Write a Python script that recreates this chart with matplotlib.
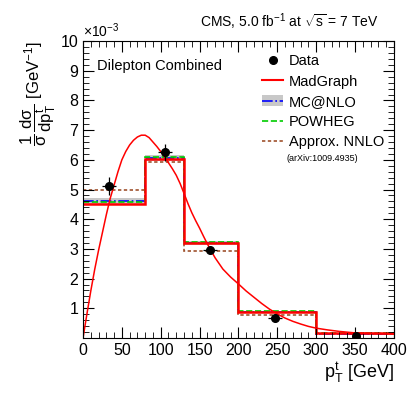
import matplotlib
matplotlib.use("Agg")
import matplotlib.pyplot as plt
from matplotlib.patches import Patch
from matplotlib.lines import Line2D
from matplotlib.ticker import MultipleLocator, FixedLocator

plt.rcParams['font.family'] = ['Liberation Sans', 'DejaVu Sans']
plt.rcParams['mathtext.fontset'] = 'custom'
plt.rcParams['mathtext.rm'] = 'Liberation Sans'
plt.rcParams['mathtext.it'] = 'Liberation Sans:italic'

# bins in GeV, values in units of 1e-3 GeV^-1
edges = [0, 80, 130, 200, 300, 400]
madgraph = [4.52, 6.02, 3.21, 0.88, 0.16]
mcnlo = [4.60, 6.06, 3.20, 0.88, 0.15]
mcnlo_lo = [4.50, 5.96, 3.13, 0.84, 0.13]
mcnlo_hi = [4.70, 6.16, 3.27, 0.92, 0.17]
powheg = [4.57, 6.08, 3.22, 0.90, 0.16]
nnlo = [5.00, 5.94, 2.92, 0.77, 0.12]

data_x = [34, 105, 163, 247, 351]
data_y = [5.12, 6.25, 2.96, 0.68, 0.08]
data_yerr = [0.30, 0.30, 0.10, 0.07, 0.05]
data_xerr = [9, 9, 9, 9, 0]

# MadGraph parton-level curve
curve_x = [0, 5, 10, 15, 20, 25, 30, 35, 40, 45, 50, 55, 60, 65, 70, 75, 80, 85,
           90, 95, 100, 105, 110, 115, 120, 125, 130, 135, 140, 145, 150, 155, 160,
           165, 170, 180, 190, 200, 210, 220, 230, 240, 250, 260, 270, 280, 290,
           300, 315, 330, 350, 375, 400]
curve_y = [0.0, 0.8, 1.58, 2.3, 2.95, 3.55, 4.15, 4.7, 5.15, 5.6, 6.0, 6.28, 6.5,
           6.66, 6.77, 6.83, 6.83, 6.75, 6.6, 6.45, 6.28, 6.1, 5.9, 5.7, 5.48, 5.2,
           4.87, 4.53, 4.22, 3.95, 3.7, 3.43, 3.17, 2.93, 2.7, 2.32, 2.05, 1.82,
           1.58, 1.37, 1.16, 0.97, 0.81, 0.67, 0.56, 0.47, 0.39, 0.33, 0.27, 0.22,
           0.17, 0.15, 0.13]

fig = plt.figure(figsize=(4.15, 3.99), dpi=100)
ax = fig.add_axes([0.2, 0.153, 0.749, 0.744])

ax.stairs(mcnlo_hi, edges, baseline=mcnlo_lo, fill=True, color='#c8c8c8', lw=0)
ax.stairs(nnlo, edges, baseline=None, color='#a0522d', lw=1.2, ls=(0, (2, 1.5)))
ax.stairs(mcnlo, edges, baseline=None, color='#0000ff', lw=1.2, ls='-.')
ax.stairs(powheg, edges, baseline=None, color='#00cc00', lw=1.2, ls='--')
ax.stairs(madgraph, edges, baseline=None, color='#ff0000', lw=1.8)
ax.plot(curve_x, curve_y, color='#ff0000', lw=1.1)
ax.errorbar(data_x, data_y, yerr=data_yerr, xerr=data_xerr, fmt='o', color='black',
            ms=5.5, elinewidth=0.9, capsize=0, zorder=5)

ax.set_xlim(0, 400)
ax.set_ylim(0, 10)
ax.xaxis.set_major_locator(MultipleLocator(50))
ax.xaxis.set_minor_locator(MultipleLocator(10))
ax.yaxis.set_major_locator(FixedLocator(range(1, 11)))
ax.yaxis.set_minor_locator(MultipleLocator(0.2))
ax.tick_params(which='both', direction='in', top=True, right=True, labelsize=11.5)
ax.tick_params(which='major', length=8)
ax.tick_params(which='minor', length=4)

ax.set_xlabel(r'$\mathrm{p}_{\mathrm{T}}^{\mathrm{t}}$ [GeV]', fontsize=13, loc='right', labelpad=2)
ax.set_ylabel(r'$\dfrac{\mathrm{1}}{\mathrm{\sigma}}\,\dfrac{\mathrm{d\sigma}}{\mathrm{dp}_{\mathrm{T}}^{\mathrm{t}}}$ [GeV$^{\mathrm{-1}}$]',
              fontsize=12, loc='top', labelpad=2)

fig.text(0.2, 0.9, r'$\times$10$^{-3}$', fontsize=10, ha='left', va='bottom')
fig.text(0.912, 0.92, r'CMS, 5.0 fb$^{\mathrm{-1}}$ at $\sqrt{\mathrm{s}}$ = 7 TeV', fontsize=10, ha='right', va='bottom')
ax.text(0.045, 0.915, 'Dilepton Combined', transform=ax.transAxes, fontsize=10.5, va='center')
ax.text(0.655, 0.605, '(arXiv:1009.4935)', transform=ax.transAxes, fontsize=6.5, va='center')

handles = [
    Line2D([], [], marker='o', color='black', ls='none', ms=5.5),
    Line2D([], [], color='#ff0000', lw=1.5),
    (Patch(facecolor='#c8c8c8', lw=0), Line2D([], [], color='#0000ff', lw=1.2, ls='-.')),
    Line2D([], [], color='#00cc00', lw=1.2, ls='--'),
    Line2D([], [], color='#a0522d', lw=1.2, ls=(0, (2, 1.5))),
]
labels = ['Data', 'MadGraph', 'MC@NLO', 'POWHEG', 'Approx. NNLO']
ax.legend(handles, labels, loc='upper left', bbox_to_anchor=(0.576, 0.955), frameon=False,
          fontsize=10.5, handlelength=1.45, handletextpad=0.4, labelspacing=0.42,
          borderpad=0, borderaxespad=0)

fig.savefig('out.png', dpi=100)
